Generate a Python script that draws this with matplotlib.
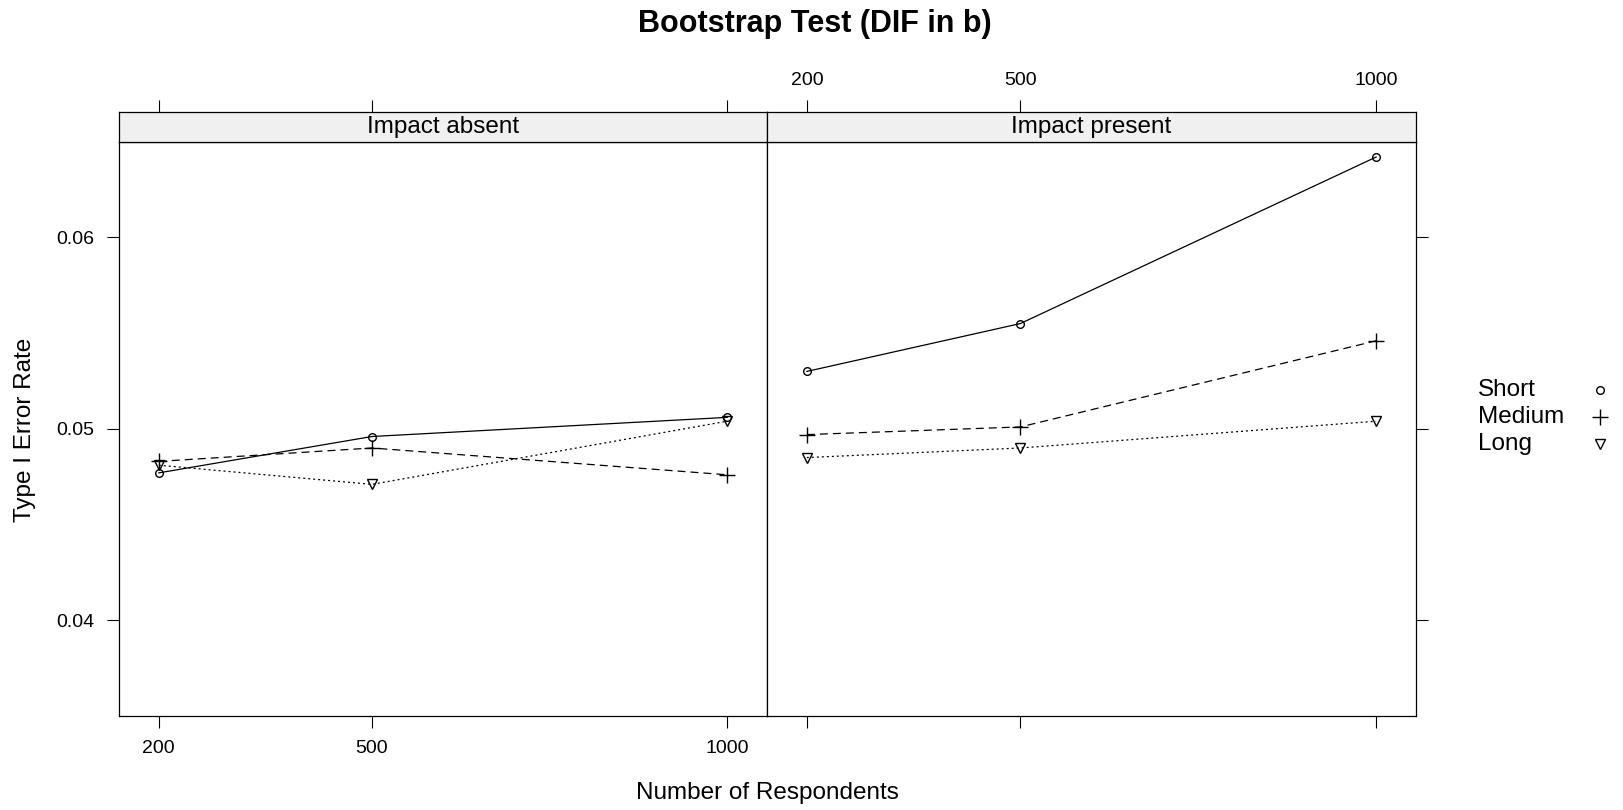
import numpy as np
import matplotlib
matplotlib.use("Agg")
import matplotlib.pyplot as plt

plt.rcParams['font.family'] = ['Liberation Sans', 'DejaVu Sans']

# data
sizes = [200, 500, 1000]
panels = ["Impact absent", "Impact present"]
series = ["Short", "Medium", "Long"]

absent_short = [0.0477, 0.0496, 0.0506]
absent_medium = [0.0483, 0.0490, 0.0476]
absent_long = [0.0481, 0.0471, 0.0504]

present_short = [0.0530, 0.0555, 0.0642]
present_medium = [0.0497, 0.0501, 0.0546]
present_long = [0.0485, 0.0490, 0.0504]

y_ticks = [0.04, 0.05, 0.06]
y_labels = ["0.04", "0.05", "0.06"]

W, H = 1623, 810
styles = {
    "Short": dict(ls="-", marker="o", ms=5.5, mfc="none"),
    "Medium": dict(ls=(0, (6.4, 4)), marker="+", ms=11, mew=1),
    "Long": dict(ls=(0, (1.6, 2.4)), marker="v", ms=7, mfc="none"),
}


def rect(x0, y0, x1, y1):
    # pixel box (top-left origin) -> figure fraction
    return [x0 / W, 1 - y1 / H, (x1 - x0) / W, (y1 - y0) / H]


def main():
    fig = plt.figure(figsize=(W / 100, H / 100), dpi=100)
    data = [
        [absent_short, absent_medium, absent_long],
        [present_short, present_medium, present_long],
    ]
    xlim = (144, 1056)
    ylim = (0.035, 0.065)
    edges = [(119, 767), (767, 1416)]
    for i, (x0, x1) in enumerate(edges):
        ax = fig.add_axes(rect(x0, 141.7, x1, 716))
        for name, vals in zip(series, data[i]):
            ax.plot(sizes, vals, color="black", lw=0.9, **styles[name])
        ax.set_xlim(xlim)
        ax.set_ylim(ylim)
        ax.set_xticks(sizes)
        ax.set_yticks(y_ticks)
        ax.tick_params(direction="out", length=8.5, width=0.8, labelsize=14, pad=9)
        for s in ax.spines.values():
            s.set_linewidth(0.9)
        if i == 0:
            ax.set_xticklabels([str(v) for v in sizes])
            ax.set_yticklabels(y_labels)
            ax.tick_params(axis="y", left=True, right=False, labelleft=True)
        else:
            ax.set_xticklabels([])
            ax.tick_params(axis="y", left=False, right=True,
                           labelleft=False, labelright=False)

        # strip with panel title and top ticks
        st = fig.add_axes(rect(x0, 111.7, x1, 141.7))
        st.set_facecolor("#f0f0f0")
        st.set_xlim(xlim)
        st.set_ylim(0, 1)
        st.set_yticks([])
        st.set_xticks(sizes)
        st.tick_params(axis="x", direction="out", bottom=False, top=True,
                       labelbottom=False, labeltop=(i == 1),
                       length=8.5, width=0.8, labelsize=14, pad=8)
        if i == 1:
            st.set_xticklabels([str(v) for v in sizes])
        for s in st.spines.values():
            s.set_linewidth(0.9)
        st.text(0.5, 0.5, panels[i], transform=st.transAxes,
                ha="center", va="center", fontsize=17.5)

    fig.text(815 / W, 1 - 24 / H, "Bootstrap Test (DIF in b)", ha="center",
             va="center", fontsize=22, fontweight="bold")
    fig.text(767 / W, 1 - 793 / H, "Number of Respondents", ha="center",
             va="center", fontsize=17.5)
    fig.text(25 / W, 1 - 430 / H, "Type I Error Rate", ha="center",
             va="center", rotation=90, fontsize=17.5)

    # key on the right
    key = fig.add_axes(rect(1470, 370, 1623, 465))
    key.set_xlim(1470, 1623)
    key.set_ylim(465, 370)
    key.axis("off")
    rows = [390, 417, 444]
    for name, yy in zip(series, rows):
        key.text(1478, yy, name, ha="left", va="center", fontsize=17.5)
        st = dict(styles[name])
        st.pop("ls")
        key.plot([1600], [yy], color="black", ls="none", **st)

    fig.savefig("out.png", dpi=100)


if __name__ == "__main__":
    main()
